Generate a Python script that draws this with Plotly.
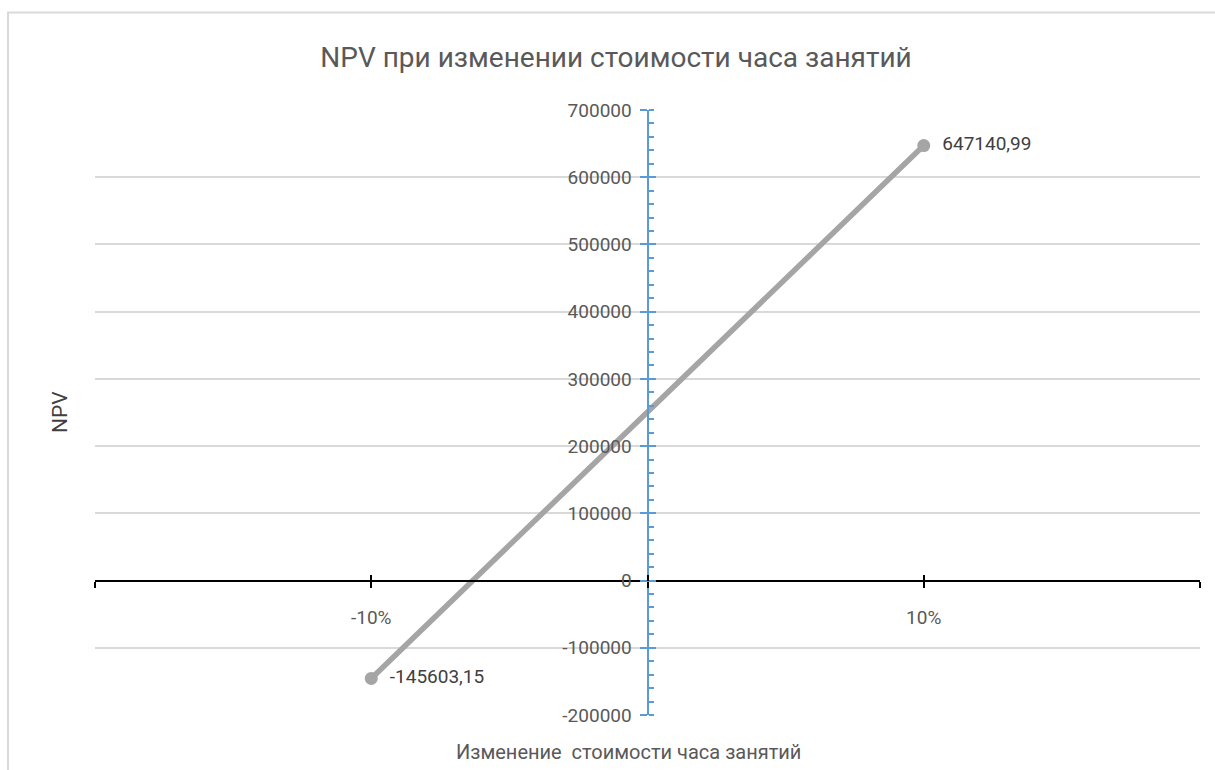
import plotly.graph_objects as go

# Data
x_changes = [-0.10, 0.10]
npv_values = [-145603.15, 647140.99]
npv_labels = ["-145603,15", "647140,99"]

x_tick_vals = [-0.2, -0.1, 0.0, 0.1, 0.2]
x_tick_text = ["", "-10%", "", "10%", ""]
y_tick_vals = [-200000, -100000, 0, 100000, 200000, 300000, 400000, 500000, 600000, 700000]
y_tick_text = [str(v) for v in y_tick_vals]

title_text = "NPV при изменении стоимости часа занятий"
x_title = "Изменение  стоимости часа занятий"
y_title = "NPV"

W, H = 1215, 770
L, R, T, B = 95, 15, 110, 55
pw = W - L - R
ph = H - T - B
y_range = [-200000, 700000]
x_range = [-0.2, 0.2]
zero_pos = (0 - y_range[0]) / (y_range[1] - y_range[0])

FONT = "Roboto"
GRAY = "#595959"
BLUE = "#5B9BD5"

fig = go.Figure()
fig.add_trace(go.Scatter(
    x=x_changes, y=npv_values, mode="lines+markers+text",
    line=dict(color="#A5A5A5", width=5.5),
    marker=dict(color="#A5A5A5", size=13),
    text=["  " + t for t in npv_labels], textposition="middle right",
    textfont=dict(family=FONT, size=19, color="#404040"),
    showlegend=False, hoverinfo="skip",
))
# dummy trace for overlay axes (crossing ticks)
fig.add_trace(go.Scatter(x=[None], y=[None], xaxis="x2", yaxis="y2",
                         showlegend=False, hoverinfo="skip"))

fig.update_layout(
    width=W, height=H,
    margin=dict(l=L, r=R, t=T, b=B),
    paper_bgcolor="white", plot_bgcolor="white",
    title=dict(text=title_text, x=616 / W, xanchor="center", y=1 - 57 / H, yanchor="middle",
               font=dict(family=FONT, size=28, color=GRAY)),
    xaxis=dict(
        range=x_range, tickvals=x_tick_vals, ticktext=x_tick_text,
        anchor="free", position=zero_pos,
        showgrid=False, zeroline=False,
        showline=True, linecolor="black", linewidth=2,
        ticks="outside", ticklen=6, tickwidth=2, tickcolor="black",
        ticklabelstandoff=14,
        tickfont=dict(family=FONT, size=19, color=GRAY),
        fixedrange=True,
    ),
    yaxis=dict(
        range=y_range, tickvals=y_tick_vals, ticktext=y_tick_text,
        anchor="free", position=0.5,
        showgrid=True, gridcolor="#D9D9D9", gridwidth=2, zeroline=False,
        showline=True, linecolor=BLUE, linewidth=2,
        ticks="outside", ticklen=7, tickwidth=2, tickcolor=BLUE,
        minor=dict(ticks="inside", ticklen=5, tickwidth=2, tickcolor=BLUE, dtick=20000, showgrid=False),
        ticklabelstandoff=4,
        tickfont=dict(family=FONT, size=19, color=GRAY),
        fixedrange=True,
    ),
    xaxis2=dict(
        range=x_range, tickvals=x_tick_vals, overlaying="x",
        anchor="free", position=zero_pos,
        showgrid=False, zeroline=False, showline=False, showticklabels=False,
        ticks="inside", ticklen=6, tickwidth=2, tickcolor="black",
    ),
    yaxis2=dict(
        range=y_range, tickvals=y_tick_vals, overlaying="y",
        anchor="free", position=0.5,
        showgrid=False, zeroline=False, showline=False, showticklabels=False,
        ticks="inside", ticklen=7, tickwidth=2, tickcolor=BLUE,
    ),
    annotations=[
        dict(text=x_title, xref="paper", yref="paper",
             x=(628 - L) / pw, y=-(752 - (T + ph)) / ph,
             xanchor="center", yanchor="middle", showarrow=False,
             font=dict(family=FONT, size=20, color=GRAY)),
        dict(text=y_title, xref="paper", yref="paper",
             x=(60 - L) / pw, y=1 - (412 - T) / ph,
             xanchor="center", yanchor="middle", showarrow=False, textangle=-90,
             font=dict(family=FONT, size=21, color="#404040")),
    ],
    shapes=[
        dict(type="rect", xref="paper", yref="paper",
             x0=(8 - L) / pw, x1=(1230 - L) / pw,
             y0=1 - (790 - T) / ph, y1=1 - (12.5 - T) / ph,
             line=dict(color="#D9D9D9", width=2), fillcolor="rgba(0,0,0,0)", layer="below"),
    ],
)

fig.write_html("out.html")
